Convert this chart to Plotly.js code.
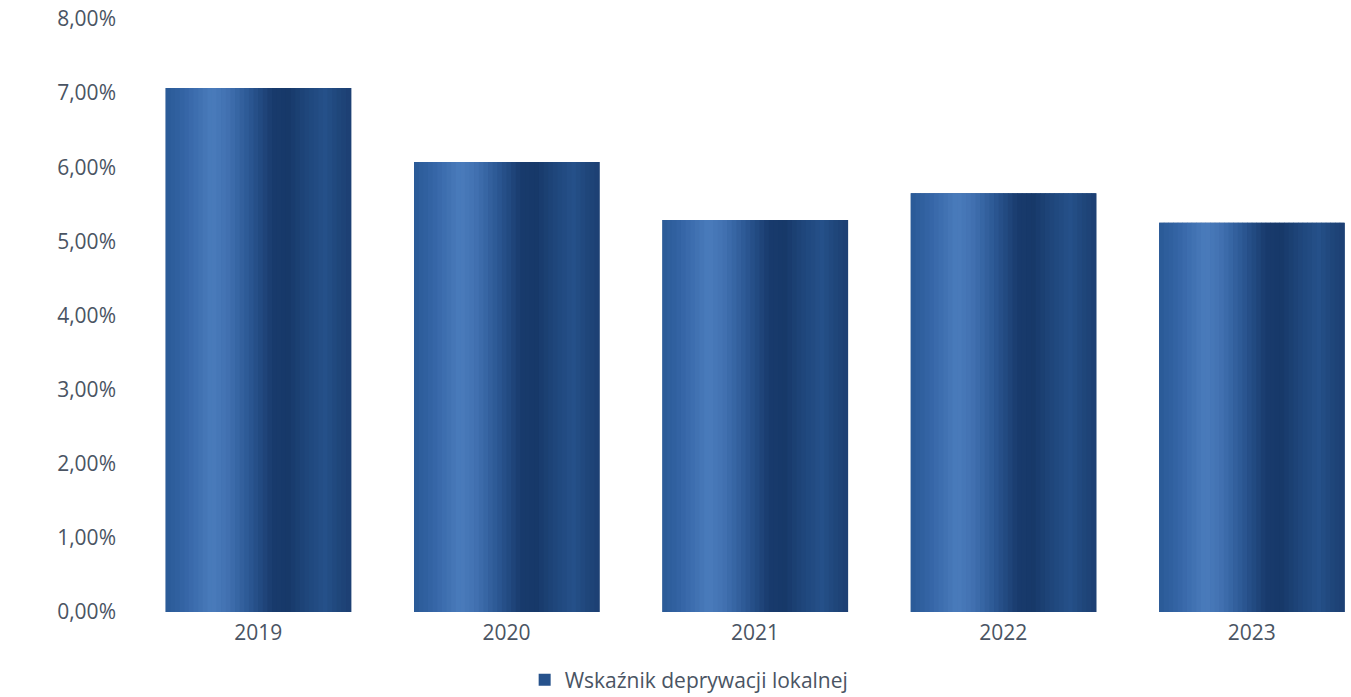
<!DOCTYPE html>
<html>
<head>
<meta charset="utf-8">
<script src="https://cdn.plot.ly/plotly-3.0.1.min.js"></script>
<style>html,body{margin:0;padding:0;background:#fff;}#chart{width:1351px;height:697px;}</style>
</head>
<body>
<div id="chart"></div>
<script>
// Data
const years = ['2019', '2020', '2021', '2022', '2023'];
const values = [0.0707, 0.0607, 0.0529, 0.0565, 0.0525];
const seriesName = 'Wskaźnik deprywacji lokalnej';
const yTickVals = [0, 0.01, 0.02, 0.03, 0.04, 0.05, 0.06, 0.07, 0.08];

// Style: horizontal shading profile of the bars (left to right)
const stops = [
  [0.00, [42, 90, 150]], [0.10, [52, 100, 165]], [0.25, [74, 124, 188]],
  [0.33, [66, 114, 178]], [0.45, [44, 88, 148]], [0.58, [24, 58, 108]],
  [0.66, [23, 57, 105]], [0.78, [32, 72, 126]], [0.86, [37, 80, 137]],
  [0.94, [31, 70, 122]], [1.00, [29, 63, 114]]
];
function shadeAt(t) {
  for (let k = 1; k < stops.length; k++) {
    if (t <= stops[k][0]) {
      const a = stops[k - 1], b = stops[k];
      const f = (t - a[0]) / (b[0] - a[0]);
      const c = a[1].map((v, j) => Math.round(v + (b[1][j] - v) * f));
      return 'rgb(' + c.join(',') + ')';
    }
  }
  return 'rgb(' + stops[stops.length - 1][1].join(',') + ')';
}
const barWidth = 0.745;
const n = 40;
const sw = barWidth / n;

const traces = [{
  type: 'bar', x: years, y: values, name: seriesName,
  width: barWidth, marker: {color: '#26528c', line: {width: 0}},
  showlegend: true, hoverinfo: 'skip'
}];
for (let i = 0; i < n; i++) {
  traces.push({
    type: 'bar', x: years, y: values, name: seriesName,
    width: sw * 1.15, offset: -barWidth / 2 + i * sw,
    marker: {color: shadeAt((i + 0.5) / n), line: {width: 0}},
    showlegend: false, hoverinfo: 'skip'
  });
}

const font = {family: '"Open Sans", "Noto Sans", sans-serif', size: 21, color: '#4a5463'};

const layout = {
  width: 1351, height: 697,
  margin: {l: 134, r: 0, t: 19, b: 85},
  paper_bgcolor: '#ffffff', plot_bgcolor: '#ffffff',
  barmode: 'overlay',
  separators: ', ',
  font: font,
  xaxis: {
    type: 'category', range: [-0.5, 4.4],
    showgrid: false, zeroline: false, showline: false, ticks: '',
    tickfont: font, ticklabelstandoff: 6
  },
  yaxis: {
    range: [0, 8e-2], tickvals: yTickVals, tickformat: '.2%',
    showgrid: false, zeroline: false, showline: false, ticks: '',
    tickfont: font, ticklabelstandoff: 17
  },
  showlegend: true,
  legend: {
    orientation: 'h', x: 0.321, xanchor: 'left',
    yref: 'container', y: 0.0244, yanchor: 'middle',
    font: font, bgcolor: 'rgba(0,0,0,0)', itemwidth: 30
  }
};

Plotly.newPlot('chart', traces, layout, {displayModeBar: false, staticPlot: true});
</script>
</body>
</html>
